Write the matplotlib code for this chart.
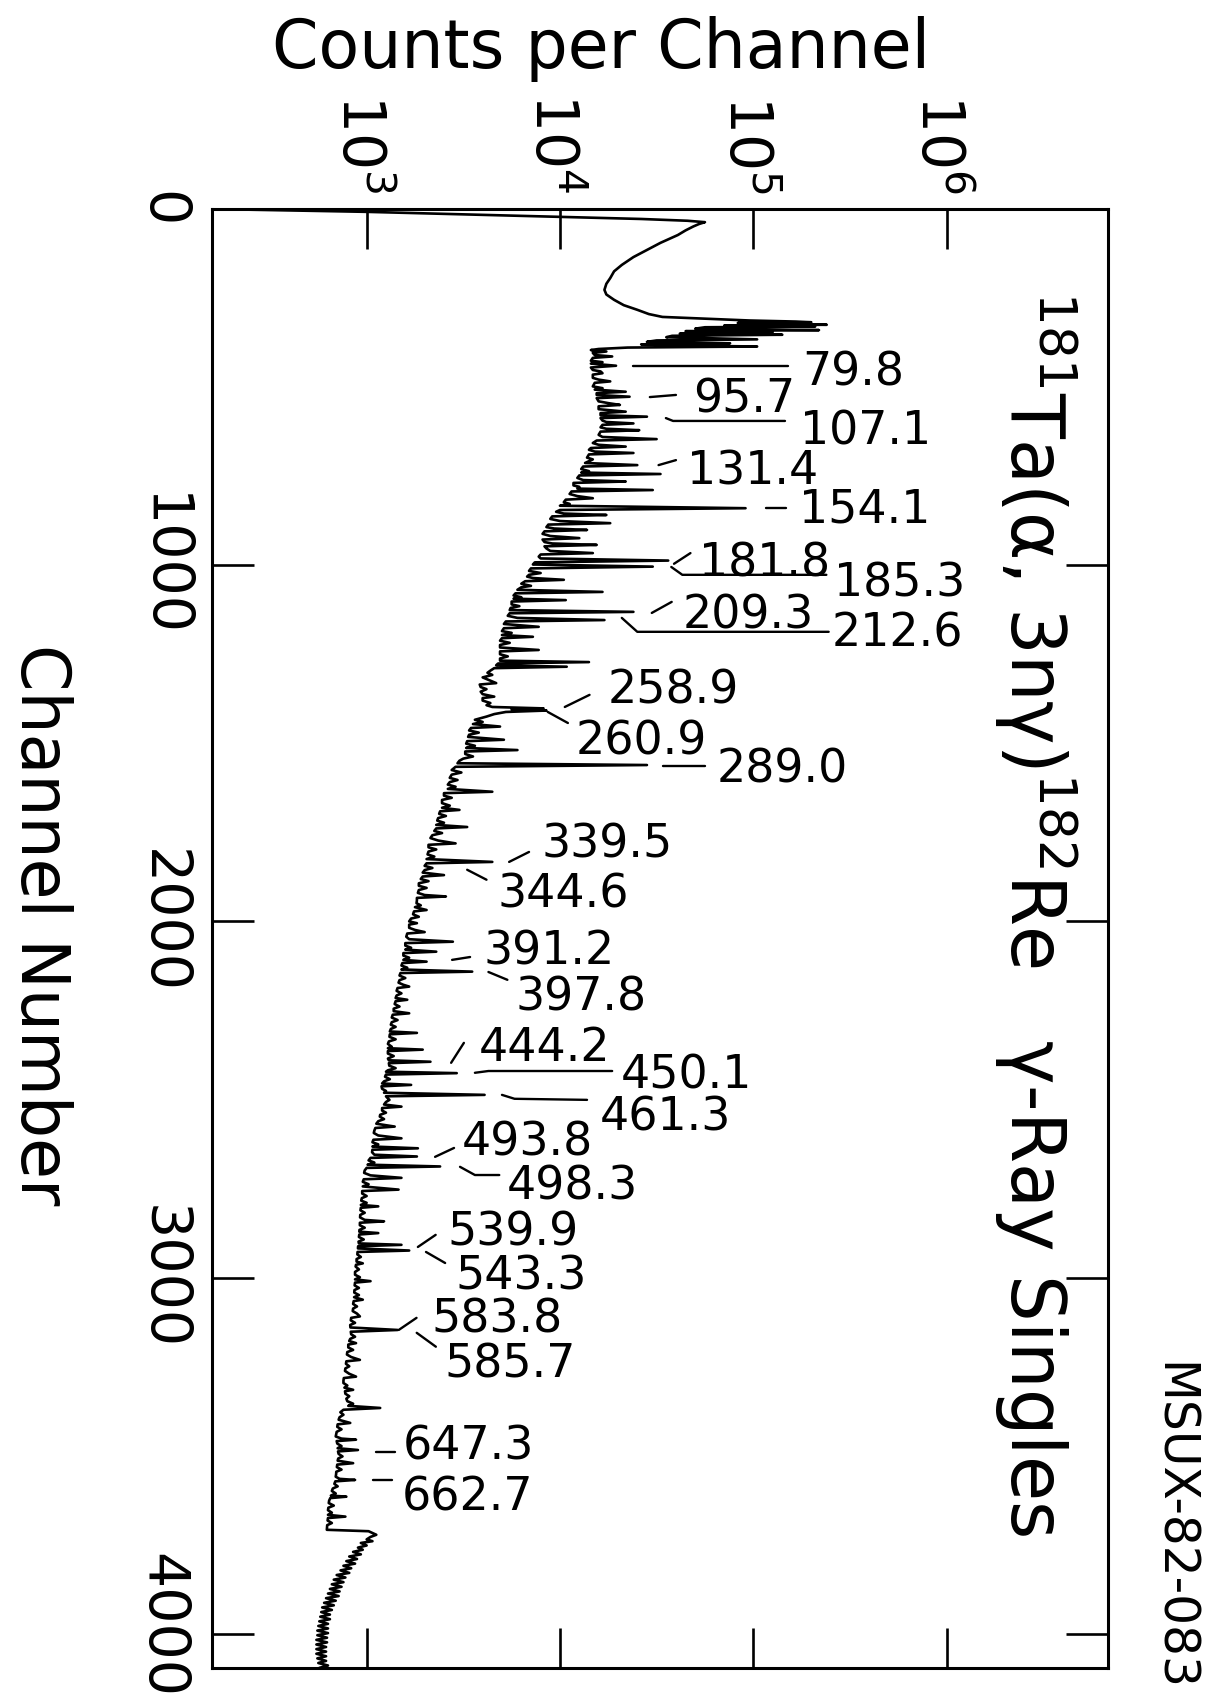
import numpy as np
import matplotlib
matplotlib.use("Agg")
import matplotlib.pyplot as plt
from matplotlib.ticker import NullLocator
from matplotlib.transforms import ScaledTranslation

plt.rcParams['font.family'] = ['DejaVu Sans']
plt.rcParams['mathtext.fontset'] = 'dejavusans'

# ---------------- data ----------------
# spectrum trace: (channel, log10 counts per channel)
trace = [
    (0, 2.20), (4, 2.60), (8, 3.00), (15, 3.50), (22, 4.00), (28, 4.42), (33, 4.66), (37, 4.75),
    (42, 4.72), (49, 4.69), (60, 4.65), (73, 4.61), (95, 4.52), (115, 4.45), (135, 4.38), (157, 4.32),
    (175, 4.28), (194, 4.26), (210, 4.24), (227, 4.23), (240, 4.24), (255, 4.28), (270, 4.33), (283, 4.40),
    (295, 4.46), (303, 4.53), (308, 4.75), (313, 4.98),
    # x-ray cluster
    (316, 5.22), (318, 5.30), (320, 4.92), (323, 5.18), (325, 5.38), (327, 4.85), (330, 5.32), (332, 4.75),
    (336, 4.70), (340, 5.34), (343, 4.65), (347, 5.10), (350, 4.62), (353, 5.15), (356, 4.58), (360, 4.55),
    (364, 4.88), (366, 5.02), (369, 4.50), (373, 4.45), (377, 4.88), (380, 4.42), (384, 4.70), (386, 5.02),
    (389, 4.35), (393, 4.20), (396, 4.16),
    # 400 - 1010
    (400, 4.24), (404, 4.17), (410, 4.18), (414, 4.27), (418, 4.17), (426, 4.16), (430, 4.22), (434, 4.16),
    (440, 4.29), (445, 4.16), (452, 4.17), (456, 4.21), (461, 4.22), (465, 4.17), (474, 4.17), (479, 4.20),
    (484, 4.26), (488, 4.18), (498, 4.17), (503, 4.22), (507, 4.18), (513, 4.34), (517, 4.19), (522, 4.19),
    (527, 4.36), (531, 4.19), (540, 4.20), (545, 4.25), (550, 4.31), (554, 4.20), (562, 4.20), (569, 4.34),
    (573, 4.21), (579, 4.21), (583, 4.45), (587, 4.21), (594, 4.22), (598, 4.24), (602, 4.38), (606, 4.22),
    (613, 4.21), (617, 4.24), (621, 4.41), (625, 4.21), (634, 4.20), (640, 4.22), (646, 4.50), (650, 4.19),
    (657, 4.17), (662, 4.20), (667, 4.34), (671, 4.16), (676, 4.15), (681, 4.18), (685, 4.38), (689, 4.15),
    (698, 4.14), (703, 4.17), (708, 4.15), (713, 4.13), (719, 4.40), (723, 4.12), (730, 4.11), (736, 4.15),
    (740, 4.11), (744, 4.52), (748, 4.10), (755, 4.09), (761, 4.12), (765, 4.34), (769, 4.07), (776, 4.07),
    (780, 4.10), (785, 4.09), (789, 4.48), (793, 4.06), (800, 4.05), (806, 4.09), (812, 4.17), (816, 4.03),
    (823, 4.02), (828, 4.05), (833, 4.00), (840, 4.96), (845, 4.00), (850, 3.98), (855, 4.02), (859, 4.24),
    (863, 3.96), (870, 3.95), (876, 4.00), (882, 4.26), (886, 3.94), (893, 3.93), (897, 3.97), (901, 4.14),
    (905, 3.92), (912, 3.91), (918, 3.95), (924, 4.10), (928, 3.91), (935, 3.92), (939, 3.96), (943, 4.19),
    (947, 3.92), (953, 3.93), (960, 3.95), (966, 4.17), (970, 3.90), (976, 3.89), (981, 3.90), (987, 4.56),
    (992, 3.87), (998, 3.86), (1004, 4.48), (1009, 3.85),
    # 1010 - 1575
    (1016, 3.84), (1022, 3.90), (1027, 3.84), (1032, 3.83), (1036, 3.86), (1041, 4.02), (1045, 3.82),
    (1052, 3.80), (1058, 3.85), (1062, 3.80), (1069, 3.78), (1075, 4.22), (1079, 3.77), (1085, 3.76),
    (1090, 3.80), (1094, 3.76), (1098, 4.03), (1102, 3.75), (1110, 3.75), (1115, 3.79), (1120, 3.745),
    (1126, 3.74), (1131, 4.38), (1135, 3.74), (1142, 3.73), (1148, 3.78), (1154, 4.23), (1158, 3.72),
    (1165, 3.71), (1173, 3.89), (1177, 3.71), (1185, 3.70), (1190, 3.75), (1196, 3.70), (1201, 3.86),
    (1205, 3.70), (1212, 3.69), (1218, 3.74), (1224, 3.69), (1231, 3.69), (1238, 3.89), (1242, 3.69),
    (1250, 3.69), (1256, 3.73), (1262, 3.69), (1268, 3.69), (1272, 4.15), (1276, 3.68), (1281, 3.67),
    (1285, 4.035), (1289, 3.66), (1296, 3.64), (1302, 3.625), (1308, 3.65), (1315, 3.60), (1322, 3.63),
    (1331, 3.67), (1335, 3.585), (1342, 3.59), (1348, 3.62), (1355, 3.59), (1362, 3.60), (1369, 3.66),
    (1373, 3.60), (1380, 3.60), (1387, 3.64), (1393, 3.62), (1398, 3.65), (1402, 3.915), (1405, 3.75),
    (1408, 3.93), (1412, 3.72), (1418, 3.66), (1425, 3.62), (1434, 3.56), (1440, 3.60), (1446, 3.55),
    (1453, 3.69), (1457, 3.54), (1464, 3.53), (1470, 3.58), (1476, 3.53), (1482, 3.525), (1490, 3.71),
    (1494, 3.52), (1501, 3.515), (1507, 3.56), (1513, 3.515), (1519, 3.78), (1523, 3.51), (1530, 3.51),
    (1537, 3.55), (1543, 3.50), (1549, 3.48), (1556, 3.47), (1561, 4.45), (1566, 3.46), (1575, 3.44),
    # 1575 - 1960
    (1582, 3.49), (1588, 3.44), (1597, 3.43), (1603, 3.47), (1609, 3.43), (1616, 3.42), (1622, 3.46),
    (1628, 3.42), (1636, 3.65), (1640, 3.40), (1647, 3.40), (1653, 3.44), (1659, 3.39), (1668, 3.39),
    (1675, 3.43), (1681, 3.39), (1687, 3.48), (1691, 3.38), (1698, 3.375), (1704, 3.41), (1710, 3.37),
    (1717, 3.365), (1723, 3.40), (1729, 3.36), (1735, 3.52), (1739, 3.36), (1746, 3.35), (1752, 3.39),
    (1758, 3.34), (1766, 3.33), (1773, 3.37), (1781, 3.46), (1785, 3.32), (1792, 3.32), (1798, 3.36),
    (1804, 3.32), (1812, 3.315), (1818, 3.35), (1825, 3.31), (1833, 3.65), (1837, 3.31), (1844, 3.30),
    (1850, 3.34), (1856, 3.30), (1863, 3.29), (1870, 3.40), (1874, 3.29), (1881, 3.28), (1887, 3.32),
    (1893, 3.27), (1900, 3.27), (1906, 3.31), (1912, 3.27), (1920, 3.265), (1926, 3.30), (1930, 3.41),
    (1934, 3.26), (1941, 3.26), (1949, 3.258), (1955, 3.28), (1960, 3.25),
    # 1960 - 2970
    (1968, 3.31), (1972, 3.245), (1980, 3.24), (1987, 3.27), (1992, 3.23), (2000, 3.22), (2005, 3.26),
    (2009, 3.22), (2018, 3.22), (2024, 3.25), (2030, 3.30), (2034, 3.21), (2043, 3.205), (2050, 3.22),
    (2057, 3.446), (2061, 3.20), (2068, 3.20), (2074, 3.23), (2079, 3.20), (2085, 3.36), (2089, 3.19),
    (2096, 3.19), (2102, 3.22), (2108, 3.19), (2113, 3.31), (2117, 3.185), (2124, 3.18), (2130, 3.21),
    (2135, 3.18), (2141, 3.546), (2145, 3.175), (2152, 3.17), (2159, 3.20), (2165, 3.17), (2172, 3.165),
    (2178, 3.19), (2183, 3.22), (2187, 3.16), (2195, 3.155), (2202, 3.18), (2208, 3.155), (2215, 3.15),
    (2220, 3.21), (2224, 3.15), (2232, 3.145), (2239, 3.17), (2245, 3.14), (2252, 3.14), (2258, 3.22),
    (2262, 3.135), (2270, 3.13), (2277, 3.16), (2283, 3.13), (2290, 3.125), (2296, 3.15), (2302, 3.125),
    (2309, 3.12), (2313, 3.26), (2317, 3.12), (2324, 3.118), (2331, 3.15), (2337, 3.115), (2344, 3.11),
    (2352, 3.13), (2356, 3.11), (2360, 3.29), (2364, 3.11), (2371, 3.11), (2378, 3.14), (2385, 3.11),
    (2390, 3.115), (2394, 3.33), (2398, 3.115), (2405, 3.117), (2412, 3.15), (2418, 3.11), (2422, 3.10),
    (2426, 3.466), (2430, 3.10), (2436, 3.095), (2443, 3.12), (2449, 3.09), (2455, 3.08), (2459, 3.23),
    (2463, 3.077), (2470, 3.08), (2476, 3.10), (2481, 3.09), (2487, 3.61), (2491, 3.10), (2497, 3.11),
    (2501, 3.118), (2507, 3.10), (2514, 3.09), (2520, 3.18), (2524, 3.08), (2531, 3.08), (2537, 3.10),
    (2543, 3.07), (2548, 3.068), (2555, 3.09), (2561, 3.06), (2568, 3.05), (2576, 3.145), (2580, 3.045),
    (2587, 3.04), (2594, 3.037), (2601, 3.06), (2609, 3.18), (2613, 3.035), (2620, 3.03), (2626, 3.06),
    (2632, 3.03), (2637, 3.265), (2641, 3.03), (2648, 3.028), (2655, 3.04), (2660, 3.26), (2664, 3.02),
    (2671, 3.01), (2677, 3.04), (2683, 3.005), (2688, 3.38), (2692, 3.00), (2699, 2.99), (2706, 2.987),
    (2713, 3.02), (2720, 3.18), (2724, 2.985), (2731, 2.98), (2738, 3.01), (2744, 2.98), (2753, 3.165),
    (2757, 2.977), (2764, 2.977), (2771, 3.00), (2777, 2.975), (2784, 2.972), (2790, 3.00), (2796, 2.97),
    (2800, 3.06), (2804, 2.97), (2811, 2.968), (2818, 2.99), (2824, 2.967), (2831, 2.966), (2838, 2.99),
    (2842, 3.09), (2846, 2.965), (2853, 2.965), (2860, 2.99), (2866, 2.963), (2871, 2.962), (2875, 3.06),
    (2879, 2.962), (2886, 2.96), (2893, 2.985), (2899, 2.958), (2904, 2.96), (2908, 3.18), (2912, 2.956),
    (2918, 2.955), (2924, 3.22), (2928, 2.953), (2935, 2.952), (2942, 2.97), (2948, 2.948), (2955, 2.948),
    (2960, 2.98), (2964, 2.945), (2969, 2.943),
    # 2970 - 3722
    (2977, 2.96), (2984, 2.94), (2992, 2.94), (2999, 2.965), (3005, 2.94), (3010, 3.02), (3014, 2.94),
    (3022, 2.938), (3029, 2.96), (3035, 2.937), (3042, 2.936), (3049, 2.96), (3055, 2.935), (3062, 2.98),
    (3066, 2.933), (3074, 2.93), (3081, 2.95), (3087, 2.93), (3094, 2.928), (3101, 2.95), (3109, 2.965),
    (3113, 2.92), (3120, 2.918), (3127, 2.94), (3133, 2.915), (3140, 2.916), (3147, 3.16), (3152, 2.918),
    (3159, 2.92), (3166, 2.94), (3172, 2.915), (3178, 2.91), (3184, 2.945), (3188, 2.905), (3196, 2.905),
    (3203, 2.93), (3209, 2.90), (3216, 2.898), (3223, 2.92), (3231, 2.965), (3235, 2.895), (3242, 2.893),
    (3249, 2.91), (3255, 2.89), (3262, 2.888), (3270, 2.91), (3278, 2.945), (3282, 2.882), (3289, 2.88),
    (3296, 2.88), (3303, 2.90), (3309, 2.885), (3315, 2.93), (3319, 2.888), (3326, 2.89), (3333, 2.91),
    (3340, 2.895), (3347, 2.90), (3354, 2.93), (3360, 2.905), (3366, 3.07), (3371, 2.88), (3378, 2.864),
    (3385, 2.88), (3392, 2.86), (3399, 2.855), (3408, 2.915), (3412, 2.85), (3419, 2.848), (3426, 2.87),
    (3433, 2.845), (3440, 2.842), (3446, 2.84), (3452, 2.87), (3455, 2.945), (3459, 2.845), (3466, 2.848),
    (3473, 2.87), (3479, 2.85), (3484, 2.955), (3488, 2.852), (3495, 2.855), (3502, 2.875), (3508, 2.853),
    (3514, 2.85), (3521, 2.93), (3525, 2.848), (3532, 2.846), (3539, 2.87), (3545, 2.843), (3552, 2.842),
    (3559, 2.84), (3565, 2.86), (3568, 2.94), (3572, 2.838), (3579, 2.833), (3586, 2.85), (3592, 2.825),
    (3599, 2.82), (3606, 2.84), (3612, 2.815), (3615, 2.895), (3619, 2.812), (3626, 2.806), (3633, 2.804),
    (3640, 2.83), (3646, 2.802), (3653, 2.80), (3660, 2.82), (3666, 2.80), (3671, 2.89), (3675, 2.80),
    (3682, 2.798), (3689, 2.82), (3695, 2.796), (3702, 2.795), (3708, 2.794), (3712, 3.01), (3722, 3.05),
    # 3722 - 4095
    (3728, 3.02), (3735, 3.00), (3740, 3.03), (3745, 2.97), (3752, 3.00), (3758, 2.955), (3764, 2.98),
    (3770, 2.93), (3777, 2.97), (3783, 2.91), (3790, 2.95), (3796, 2.895), (3803, 2.94), (3809, 2.88),
    (3816, 2.92), (3822, 2.865), (3829, 2.91), (3835, 2.845), (3842, 2.89), (3848, 2.83), (3855, 2.88),
    (3861, 2.82), (3868, 2.87), (3874, 2.81), (3881, 2.86), (3887, 2.80), (3894, 2.855), (3900, 2.79),
    (3907, 2.84), (3913, 2.78), (3920, 2.83), (3926, 2.77), (3933, 2.82), (3939, 2.765), (3946, 2.81),
    (3952, 2.76), (3959, 2.81), (3965, 2.755), (3972, 2.80), (3978, 2.75), (3985, 2.80), (3991, 2.745),
    (3998, 2.80), (4004, 2.745), (4011, 2.795), (4017, 2.74), (4024, 2.795), (4030, 2.74), (4037, 2.79),
    (4043, 2.74), (4050, 2.79), (4056, 2.74), (4063, 2.79), (4069, 2.745), (4076, 2.79), (4082, 2.75),
    (4089, 2.80), (4095, 2.76),
]

# peak energy labels (keV): text, log10 counts of left edge, channel of centre
label_text = ["79.8", "95.7", "107.1", "131.4", "154.1", "181.8", "185.3", "209.3", "212.6",
              "258.9", "260.9", "289.0", "339.5", "344.6", "391.2", "397.8", "444.2", "450.1",
              "461.3", "493.8", "498.3", "539.9", "543.3", "583.8", "585.7", "647.3", "662.7"]
label_logc = [5.255, 4.69, 5.242, 4.659, 5.236, 4.72, 5.42, 4.635, 5.407,
              4.246, 4.083, 4.809, 3.907, 3.677, 3.602, 3.77, 3.581, 4.317,
              4.205, 3.492, 3.726, 3.42, 3.458, 3.335, 3.40, 3.187, 3.184]
label_chan = [446, 522, 612, 724, 831, 982, 1040, 1128, 1179,
              1338, 1482, 1561, 1771, 1912, 2072, 2201, 2343, 2419,
              2538, 2608, 2731, 2860, 2984, 3105, 3231, 3461, 3604]

# leader lines: list of (log10 counts, channel) vertices
leaders = [
    [(4.378, 441), (5.18, 441)],
    [(4.465, 528), (4.60, 522)],
    [(4.548, 587), (4.585, 595), (5.164, 595)],
    [(4.51, 719), (4.60, 705)],
    [(5.065, 839), (5.168, 839)],
    [(4.59, 996), (4.675, 966)],
    [(4.576, 1005), (4.633, 1027), (5.378, 1027)],
    [(4.475, 1134), (4.578, 1103)],
    [(4.32, 1148), (4.40, 1187), (5.39, 1187)],
    [(4.025, 1398), (4.153, 1364)],
    [(3.937, 1412), (4.041, 1443)],
    [(4.535, 1563), (4.752, 1563)],
    [(3.737, 1833), (3.84, 1805)],
    [(3.52, 1855), (3.62, 1883)],
    [(3.442, 2108), (3.535, 2100)],
    [(3.63, 2142), (3.728, 2164)],
    [(3.437, 2397), (3.503, 2341)],
    [(3.56, 2425), (3.63, 2420), (4.27, 2420)],
    [(3.70, 2487), (3.765, 2498), (4.14, 2501)],
    [(3.354, 2661), (3.452, 2636)],
    [(3.483, 2689), (3.56, 2712), (3.686, 2712)],
    [(3.265, 2914), (3.357, 2880)],
    [(3.307, 2928), (3.406, 2959)],
    [(3.166, 3147), (3.258, 3113)],
    [(3.259, 3155), (3.358, 3194)],
    [(3.05, 3489), (3.146, 3489)],
    [(3.033, 3568), (3.13, 3568)],
]

x_ticks = [1e3, 1e4, 1e5, 1e6]
x_tick_labels = [r'$10^{3}$', r'$10^{4}$', r'$10^{5}$', r'$10^{6}$']
y_ticks = [0, 1000, 2000, 3000, 4000]
y_tick_labels = ['0', '1000', '2000', '3000', '4000']

# ---------------- figure ----------------
W, H = 1225, 1701
fig = plt.figure(figsize=(W / 100, H / 100), dpi=100)
fig.patch.set_facecolor('white')
ax = fig.add_axes([212 / W, 1 - 1668 / H, 896 / W, 1459 / H])

chan = np.array([p[0] for p in trace], dtype=float)
counts = 10 ** np.array([p[1] for p in trace])
ax.plot(counts, chan, color='black', lw=1.9, solid_joinstyle='round')

for seg in leaders:
    lx = 10 ** np.array([v[0] for v in seg])
    ly = np.array([v[1] for v in seg])
    ax.plot(lx, ly, color='black', lw=1.7, solid_capstyle='round')

lab_shift = ScaledTranslation(0, -5 / 100, fig.dpi_scale_trans)
for t, lc, chn in zip(label_text, label_logc, label_chan):
    ax.text(10 ** lc, chn, t, fontsize=33, ha='left', va='center', color='black',
            transform=ax.transData + lab_shift)

ax.set_xscale('log')
ax.set_xlim(10 ** 2.2, 10 ** 6.835)
ax.set_ylim(4096, 0)

ax.set_xticks(x_ticks)
ax.set_xticklabels(x_tick_labels)
ax.xaxis.set_minor_locator(NullLocator())
ax.tick_params(axis='x', which='major', direction='in', length=29, width=1.9,
               top=True, bottom=True, labeltop=True, labelbottom=False,
               labelsize=42, pad=11, labelrotation=270)
xshift = ScaledTranslation(-8 / 100, 0, fig.dpi_scale_trans)
for lbl in ax.get_xticklabels(which='major'):
    lbl.set_transform(lbl.get_transform() + xshift)
ax.set_yticks(y_ticks)
ax.set_yticklabels(y_tick_labels)
ax.tick_params(axis='y', which='major', direction='in', length=30, width=1.9,
               left=True, right=True, labelleft=True, labelright=False,
               labelsize=41, pad=17, labelrotation=270)
ylabels = ax.get_yticklabels()
for lbl in ylabels:
    lbl.set_va('center')
# keep the bottom label ("4000") inside the canvas
ylabels[-1].set_transform(ylabels[-1].get_transform()
                          + ScaledTranslation(0, 8 / 100, fig.dpi_scale_trans))
for sp in ax.spines.values():
    sp.set_linewidth(2.2)

fig.text(601 / W, 1 - 68 / H, 'Counts per Channel', fontsize=48, ha='center', va='baseline')
fig.text(40 / W, 1 - 925 / H, 'Channel Number', fontsize=48, rotation=270,
         ha='center', va='center')
fig.text(1036 / W, 1 - 291 / H, r'$^{181}$Ta(α, 3nγ)$^{182}$Re   γ-Ray Singles',
         fontsize=53, rotation=270, ha='center', va='top')
fig.text(1173 / W, 1 - 1362 / H, 'MSUX-82-083', fontsize=35, rotation=270,
         ha='center', va='top')

fig.savefig('out.png', dpi=100, facecolor='white')
